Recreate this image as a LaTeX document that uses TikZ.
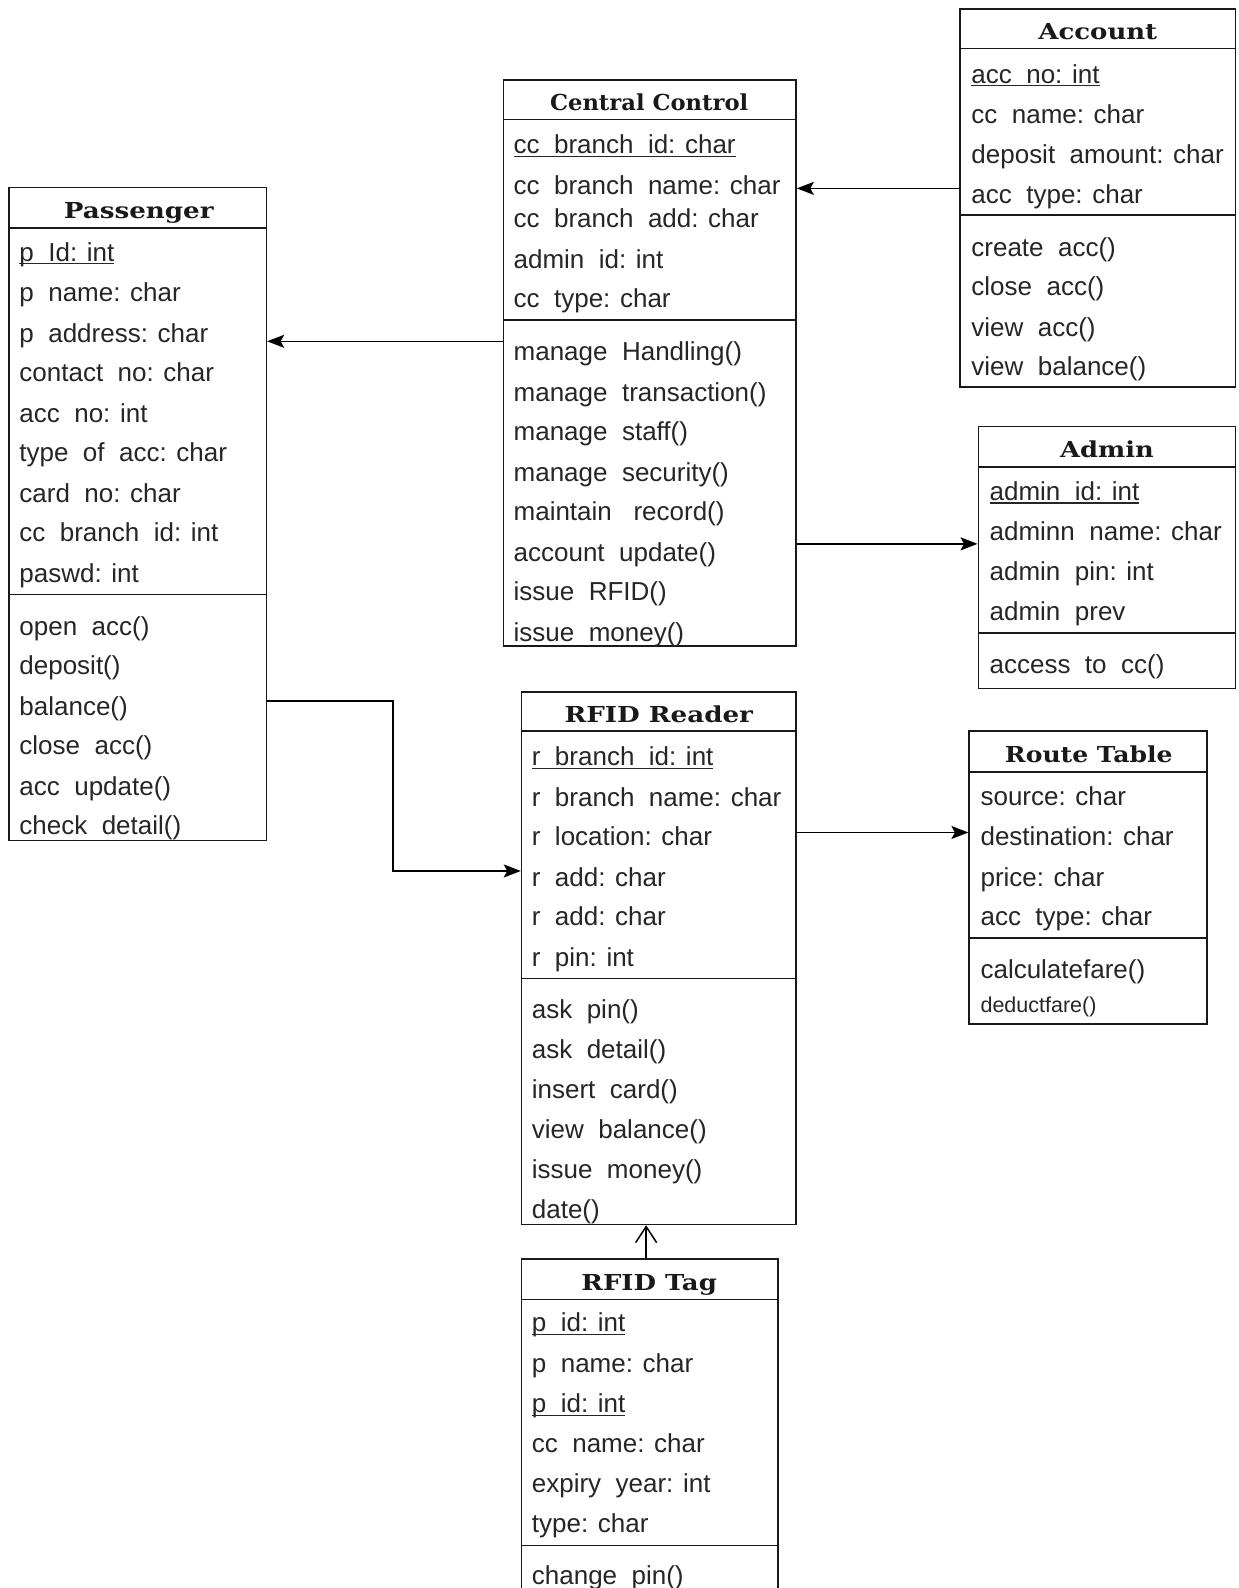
\documentclass[tikz,border=0pt]{standalone}
\usepackage{fontspec}
\usepackage{graphicx}
\setmainfont{Liberation Sans}
\newfontfamily\headfont{DejaVu Serif}
\usetikzlibrary{arrows.meta,fit}

% gap left where the underscore of an identifier sits
\newcommand\gap{\hspace{0.556em}}
% underline drawn just under the baseline
\newcommand\ul[1]{\setbox0\hbox{#1}\rlap{\rule[-3.2pt]{\wd0}{1.3pt}}\box0}
% class title, widened by a given factor
\newcommand\hd[2]{\scalebox{#1}[1]{#2}}

\tikzset{
  classbox/.style={draw=black!90, line width=1.6pt, inner sep=0pt, fill=white},
  sepline/.style={draw=black!90, line width=1.6pt},
  headtext/.style={font=\headfont\bfseries\fontsize{22}{26}\selectfont, text=black!90, inner sep=0pt, anchor=base},
  rowtext/.style={font=\fontsize{26}{30}\selectfont, text=black!85, inner sep=0pt, anchor=base west},
  smalltext/.style={font=\fontsize{21.5}{24}\selectfont, text=black!85, inner sep=0pt, anchor=base west},
  conn/.style={draw=black, line width=1.5pt, -{Stealth[length=17pt,width=13pt,inset=3.5pt]}},
  openconn/.style={draw=black, line width=1.5pt, -{Straight Barb[length=16pt,width=21pt,line width=1.5pt]}},
}

\begin{document}
\begin{tikzpicture}[x=1.01308pt, y=-1.01308pt]
\clip (0,0) rectangle (1223,1568);
\fill[white] (0,0) rectangle (1223,1568);

% ---------- Account ----------
\node[classbox, fit={(948,9) (1220,382)}] (acc) {};
\draw[sepline] (948,48) -- (1220,48);
\draw[sepline] (948,212) -- (1220,212);
\node[headtext] (acc-h) at (1084,39) {\hd{1.18}{Account}};
\foreach \y/\t [count=\i] in {
  73/{\ul{acc\gap no: int}},
  113/{cc\gap name: char},
  152/{deposit\gap amount: char},
  192/{acc\gap type: char},
  244/{create\gap acc()},
  283/{close\gap acc()},
  323/{view\gap acc()},
  362/{view\gap balance()}}
  \node[rowtext] (acc-\i) at (959,\y+9) {\t};

% ---------- Central Control ----------
\node[classbox, fit={(497,79) (786,638)}] (cc) {};
\draw[sepline] (497,118) -- (786,118);
\draw[sepline] (497,316) -- (786,316);
\node[headtext] (cc-h) at (641,109) {\hd{1.03}{Central Control}};
\foreach \y/\t [count=\i] in {
  143/{\ul{cc\gap branch\gap id: char}},
  183/{cc\gap branch\gap name: char},
  216/{cc\gap branch\gap add: char},
  256/{admin\gap id: int},
  295/{cc\gap type: char},
  347/{manage\gap Handling()},
  387/{manage\gap transaction()},
  426/{manage\gap staff()},
  466/{manage\gap security()},
  505/{maintain\gap\ record()},
  545/{account\gap update()},
  584/{issue\gap RFID()},
  624/{issue\gap money()}}
  \node[rowtext] (cc-\i) at (507,\y+9) {\t};

% ---------- Passenger ----------
\node[classbox, fit={(9,185) (263,830)}] (pas) {};
\draw[sepline] (9,225) -- (263,225);
\draw[sepline] (9,587) -- (263,587);
\node[headtext] (pas-h) at (137,216) {\hd{1.19}{Passenger}};
\foreach \y/\t [count=\i] in {
  249/{\ul{p\gap Id: int}},
  289/{p\gap name: char},
  329/{p\gap address: char},
  368/{contact\gap no: char},
  408/{acc\gap no: int},
  447/{type\gap of\gap acc: char},
  487/{card\gap no: char},
  526/{cc\gap branch\gap id: int},
  566/{paswd: int},
  618/{open\gap acc()},
  657/{deposit()},
  697/{balance()},
  736/{close\gap acc()},
  776/{acc\gap update()},
  815/{check\gap detail()}}
  \node[rowtext] (pas-\i) at (19,\y+9) {\t};

% ---------- Admin ----------
\node[classbox, fit={(966,421) (1220,680)}] (adm) {};
\draw[sepline] (966,461) -- (1220,461);
\draw[sepline] (966,625) -- (1220,625);
\node[headtext] (adm-h) at (1093,452) {\hd{1.17}{Admin}};
\foreach \y/\t [count=\i] in {
  485/{\ul{admin\gap id: int}},
  525/{adminn\gap name: char},
  564/{admin\gap pin: int},
  604/{admin\gap prev},
  656/{access\gap to\gap cc()}}
  \node[rowtext] (adm-\i) at (977,\y+9) {\t};

% ---------- RFID Reader ----------
\node[classbox, fit={(515,683) (786,1209)}] (rdr) {};
\draw[sepline] (515,722) -- (786,722);
\draw[sepline] (515,966) -- (786,966);
\node[headtext] (rdr-h) at (650.5,713) {\hd{1.19}{RFID Reader}};
\foreach \y/\t [count=\i] in {
  747/{\ul{r\gap branch\gap id: int}},
  787/{r\gap branch\gap name: char},
  826/{r\gap location: char},
  866/{r\gap add: char},
  905/{r\gap add: char},
  945/{r\gap pin: int},
  997/{ask\gap pin()},
  1036/{ask\gap detail()},
  1076/{insert\gap card()},
  1115/{view\gap balance()},
  1155/{issue\gap money()},
  1194/{date()}}
  \node[rowtext] (rdr-\i) at (525,\y+9) {\t};

% ---------- Route Table ----------
\node[classbox, fit={(957,722) (1192,1011)}] (rt) {};
\draw[sepline] (957,762) -- (1192,762);
\draw[sepline] (957,926) -- (1192,926);
\node[headtext] (rt-h) at (1075,753) {\hd{1.14}{Route Table}};
\foreach \y/\t [count=\i] in {
  786/{source: char},
  826/{destination: char},
  866/{price: char},
  905/{acc\gap type: char},
  957/{calculatefare()}}
  \node[rowtext] (rt-\i) at (968,\y+9) {\t};
\node[smalltext] (rt-6) at (968,1000) {deductfare()};

% ---------- RFID Tag ----------
\node[classbox, fit={(515,1243) (768,1600)}] (tag) {};
\draw[sepline] (515,1283) -- (768,1283);
\draw[sepline] (515,1526) -- (768,1526);
\node[headtext] (tag-h) at (641,1274) {\hd{1.18}{RFID Tag}};
\foreach \y/\t [count=\i] in {
  1306/{\ul{p\gap id: int}},
  1346/{p\gap name: char},
  1386/{\ul{p\gap id: int}},
  1425/{cc\gap name: char},
  1465/{expiry\gap year: int},
  1504/{type: char},
  1556/{change\gap pin()}}
  \node[rowtext] (tag-\i) at (525,\y+9) {\t};

% ---------- connectors ----------
\draw[conn] (acc.west |- 0,186) -- (cc.east |- 0,186);
\draw[conn] (cc.west |- 0,337) -- (pas.east |- 0,337);
\draw[conn] (cc.east |- 0,537) -- (adm.west |- 0,537);
\draw[conn] (pas.east |- 0,692) -- (388,692) -- (388,860) -- (rdr.west |- 0,860);
\draw[conn] (rdr.east |- 0,822) -- (rt.west |- 0,822);
\draw[openconn] (tag.north -| 638,0) -- (rdr.south -| 638,0);
\end{tikzpicture}
\end{document}
